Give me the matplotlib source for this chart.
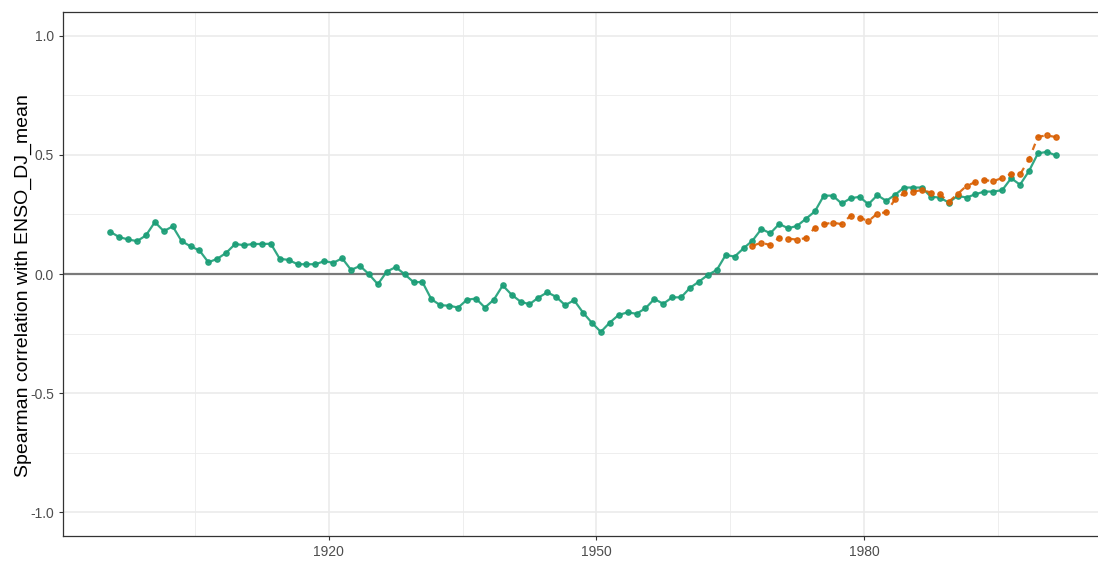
import numpy as np
import matplotlib.pyplot as plt

plt.rcParams['font.family'] = ['Liberation Sans', 'DejaVu Sans']

# Data (mid-year positions of the running windows)
years_all = np.arange(1895, 2002) + 0.5
corr_all = [0.177, 0.155, 0.145, 0.138, 0.162, 0.218, 0.180, 0.200, 0.138, 0.116,
            0.099, 0.049, 0.064, 0.089, 0.126, 0.121, 0.126, 0.126, 0.127, 0.064,
            0.059, 0.041, 0.041, 0.041, 0.054, 0.047, 0.066, 0.017, 0.034, -0.001,
            -0.043, 0.010, 0.029, -0.001, -0.034, -0.034, -0.106, -0.131, -0.133, -0.141,
            -0.108, -0.103, -0.141, -0.108, -0.048, -0.087, -0.116, -0.127, -0.099, -0.077,
            -0.096, -0.131, -0.110, -0.162, -0.205, -0.243, -0.204, -0.172, -0.161, -0.167,
            -0.144, -0.105, -0.125, -0.098, -0.098, -0.058, -0.032, -0.004, 0.017, 0.080,
            0.073, 0.108, 0.140, 0.189, 0.171, 0.210, 0.192, 0.202, 0.232, 0.263,
            0.329, 0.329, 0.296, 0.318, 0.324, 0.293, 0.331, 0.307, 0.333, 0.363,
            0.363, 0.363, 0.324, 0.321, 0.300, 0.328, 0.321, 0.335, 0.346, 0.346,
            0.352, 0.402, 0.375, 0.432, 0.506, 0.513, 0.498]

years_recent = np.arange(1967, 2002) + 0.5
corr_recent = [0.118, 0.132, 0.121, 0.153, 0.149, 0.144, 0.151, 0.195, 0.209, 0.216,
               0.209, 0.245, 0.237, 0.222, 0.254, 0.259, 0.314, 0.339, 0.345, 0.353,
               0.342, 0.335, 0.303, 0.336, 0.370, 0.386, 0.394, 0.390, 0.403, 0.421,
               0.418, 0.481, 0.576, 0.582, 0.575]

x_major = [1920, 1950, 1980]
x_minor = [1905, 1935, 1965, 1995]
y_major = [-1.0, -0.5, 0.0, 0.5, 1.0]
y_minor = [-0.75, -0.25, 0.25, 0.75]

green = '#1B9E77'
orange = '#D95F02'

fig = plt.figure(figsize=(10.98, 5.62), dpi=100)
ax = fig.add_axes([63 / 1098, 26 / 562, 1040 / 1098, 524 / 562])

# grid, ggplot theme_bw style
for x in x_minor:
    ax.axvline(x, color='#EBEBEB', lw=0.6, zorder=0)
for y in y_minor:
    ax.axhline(y, color='#EBEBEB', lw=0.6, zorder=0)
for x in x_major:
    ax.axvline(x, color='#EBEBEB', lw=1.2, zorder=0)
for y in y_major:
    ax.axhline(y, color='#EBEBEB', lw=1.2, zorder=0)

ax.axhline(0, color='#7a7a7a', lw=1.6, zorder=1)

ax.plot(years_all, corr_all, color=green, lw=1.6, marker='o', ms=3.8, alpha=0.9, zorder=3)
ax.plot(years_recent, corr_recent, color=orange, lw=1.6, ls=(0, (3, 3)),
        marker='o', ms=3.8, alpha=0.9, zorder=4)

ax.set_xlim(1890.2, 2006.8)
ax.set_ylim(-1.1, 1.1)
ax.set_xticks(x_major)
ax.set_xticklabels([str(v) for v in x_major])
ax.set_yticks(y_major)
ax.set_yticklabels(['%.1f' % v for v in y_major])
ax.tick_params(axis='both', colors='#333333', labelcolor='#4d4d4d', labelsize=10,
               length=3, width=0.8)

for s in ax.spines.values():
    s.set_color('#333333')
    s.set_linewidth(0.9)

ax.set_ylabel('Spearman correlation with ENSO_DJ_mean', fontsize=14, color='black')
ax.yaxis.set_label_coords(-0.030, 0.478)

fig.savefig('out.png', dpi=100)
